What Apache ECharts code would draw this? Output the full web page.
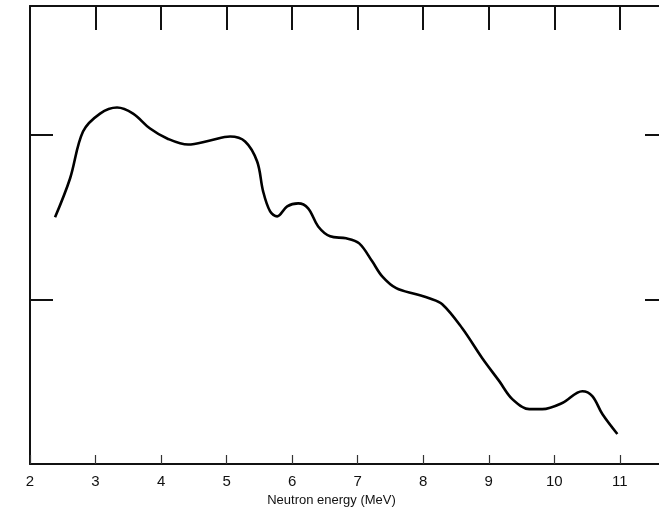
<!DOCTYPE html>
<html>
<head>
<meta charset="utf-8">
<script src="https://cdn.jsdelivr.net/npm/echarts@6/dist/echarts.min.js"></script>
<style>html,body{margin:0;padding:0;background:#fff}#c{width:659px;height:516px}</style>
</head>
<body>
<div id="c"></div>
<script>
// Neutron energy (MeV)
var energy = [2.382, 2.611, 2.809, 3.069, 3.328, 3.573, 3.832, 4.092, 4.412, 4.748, 5.053, 5.282, 5.466, 5.557, 5.664, 5.771, 5.924, 6.092, 6.244, 6.397, 6.580, 6.824, 7.023, 7.221, 7.374, 7.588, 7.893, 8.092, 8.290, 8.595, 8.901, 9.160, 9.359, 9.618, 9.817, 10.122, 10.427, 10.580, 10.733, 10.962];
// relative intensity (arbitrary units, one unit per y tick)
var intensity = [1.497, 1.733, 2.018, 2.127, 2.164, 2.127, 2.036, 1.976, 1.939, 1.964, 1.988, 1.958, 1.836, 1.655, 1.533, 1.503, 1.564, 1.582, 1.552, 1.442, 1.382, 1.370, 1.339, 1.230, 1.139, 1.067, 1.030, 1.006, 0.970, 0.824, 0.642, 0.503, 0.394, 0.333, 0.333, 0.370, 0.442, 0.412, 0.303, 0.182];
var xTicks = [2, 3, 4, 5, 6, 7, 8, 9, 10, 11];
var xTitle = 'Neutron energy (MeV)';

var pts = energy.map(function (e, i) { return [e, intensity[i]]; });
var axisLine = { show: true, onZero: false, lineStyle: { color: '#111', width: 2 } };
var chart = echarts.init(document.getElementById('c'), null, { renderer: 'canvas' });
chart.setOption({
  animation: false,
  backgroundColor: '#fff',
  grid: { left: 30, right: -10, top: 6, bottom: 52, outerBoundsMode: 'none', containLabel: false },
  xAxis: [{
    type: 'value', min: 2, max: 11.75, interval: 1, position: 'bottom',
    axisLine: axisLine,
    axisTick: { show: true, inside: true, length: 9, lineStyle: { color: '#333', width: 1.2 } },
    splitLine: { show: false },
    axisLabel: {
      color: '#111', fontFamily: 'Liberation Sans, Arial, sans-serif', fontSize: 15, margin: 10,
      formatter: function (v) { return xTicks.indexOf(v) >= 0 ? String(v) : ''; }
    },
    name: xTitle, nameLocation: 'middle', nameGap: 25,
    nameTextStyle: { color: '#111', fontFamily: 'Liberation Sans, Arial, sans-serif', fontSize: 13, padding: [0, 36, 0, 0] }
  }, {
    type: 'value', min: 2, max: 11.75, interval: 1, position: 'top',
    axisLine: axisLine,
    axisTick: { show: true, inside: true, length: 24, lineStyle: { color: '#111', width: 2 } },
    axisLabel: { show: false }, splitLine: { show: false }
  }],
  yAxis: [{
    type: 'value', min: 0, max: 2.78, interval: 1, position: 'left',
    axisLine: axisLine,
    axisTick: { show: true, inside: true, length: 23, lineStyle: { color: '#111', width: 2 } },
    axisLabel: { show: false }, splitLine: { show: false }
  }, {
    type: 'value', min: 0, max: 2.78, interval: 1, position: 'right',
    axisLine: axisLine,
    axisTick: { show: true, inside: true, length: 24, lineStyle: { color: '#111', width: 2 } },
    axisLabel: { show: false }, splitLine: { show: false }
  }],
  series: [{
    type: 'line', data: pts, smooth: 0.35, symbol: 'none',
    lineStyle: { color: '#000', width: 2.6 }
  }]
});
</script>
</body>
</html>
